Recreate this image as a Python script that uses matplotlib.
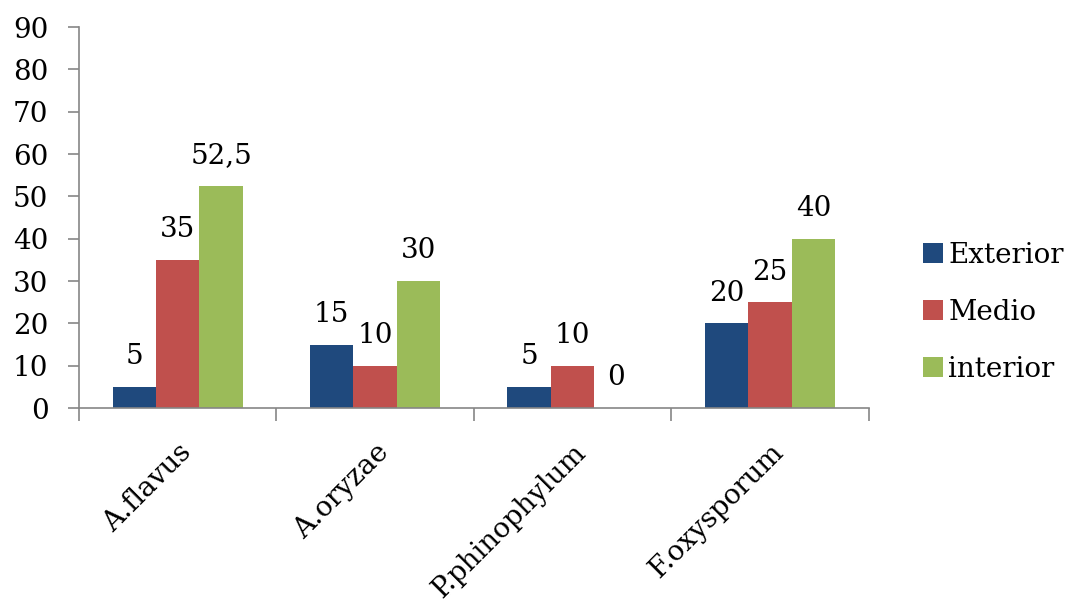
import matplotlib
matplotlib.use("Agg")
import matplotlib.pyplot as plt
import numpy as np

categories = ["A.flavus", "A.oryzae", "P.phinophylum", "F.oxysporum"]
series_names = ["Exterior", "Medio", "interior"]
exterior = [5, 15, 5, 20]
medio = [35, 10, 10, 25]
interior = [52.5, 30, 0, 40]
colors = ["#1F497D", "#C0504D", "#9BBB59"]
yticks = [0, 10, 20, 30, 40, 50, 60, 70, 80, 90]

FS = 20
plt.rcParams['font.family'] = ['DejaVu Serif']
fig = plt.figure(figsize=(10.7, 6.06), dpi=100)
ax = fig.add_axes([0.0738, 0.3267, 0.738, 0.6287])

x = np.arange(len(categories))
w = 0.22
handles = []
for i, (vals, name, c) in enumerate(zip([exterior, medio, interior], series_names, colors)):
    bars = ax.bar(x + (i - 1) * w, vals, w, color=c, label=name)
    handles.append(bars)
    for xi, v in zip(x + (i - 1) * w, vals):
        lab = ("%g" % v).replace('.', ',')
        ax.annotate(lab, (xi, v), xytext=(0, 12), textcoords='offset points',
                    ha='center', va='bottom', fontsize=FS)

ax.set_xlim(-0.5, len(categories) - 0.5)
ax.set_ylim(0, 90)
ax.set_yticks(yticks)
ax.set_yticklabels([str(t) for t in yticks], fontsize=FS)
ax.set_xticks(x)
ax.set_xticklabels(categories, rotation=45, ha='right', rotation_mode='anchor', fontsize=FS)
ax.tick_params(axis='x', length=0, pad=22)
ax.set_xticks(np.arange(len(categories) + 1) - 0.5, minor=True)
ax.tick_params(axis='x', which='minor', length=9, color='#868686', width=1.2)
ax.tick_params(axis='y', length=8, color='#868686', width=1.2, pad=14)
for s in ['top', 'right']:
    ax.spines[s].set_visible(False)
for s in ['left', 'bottom']:
    ax.spines[s].set_color('#868686')
    ax.spines[s].set_linewidth(1.2)

leg = fig.legend(handles=handles, labels=series_names, loc='center left',
                 bbox_to_anchor=(0.839, 0.485), frameon=False, fontsize=FS,
                 handlelength=0.72, handleheight=0.72, handletextpad=0.2,
                 labelspacing=1.08)

fig.savefig("out.png", dpi=100)
